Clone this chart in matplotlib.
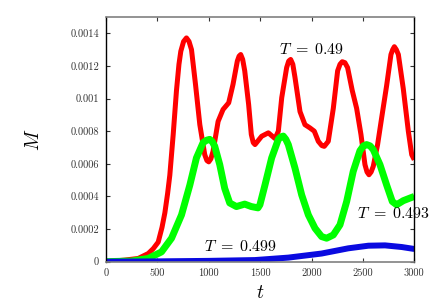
import matplotlib
matplotlib.use("Agg")
import matplotlib.pyplot as plt

plt.rcParams['mathtext.fontset'] = 'cm'
plt.rcParams['font.family'] = 'serif'
plt.rcParams['font.serif'] = ['cmr10', 'DejaVu Serif']

# T = 0.49
t_red = [0, 184, 314, 411, 460, 508, 545, 573, 600, 621, 654, 686, 710, 728, 755,
         783, 808, 832, 871, 913, 961, 982, 1000, 1020, 1042, 1091, 1139, 1194,
         1236, 1278, 1295, 1311, 1330, 1350, 1388, 1414, 1433, 1450,
         1515, 1580, 1645, 1677, 1710, 1758, 1778, 1797, 1818, 1839, 1888, 1936,
         1985, 2027, 2066, 2100, 2124, 2163, 2212, 2254, 2277, 2299, 2325, 2351,
         2396, 2439, 2481, 2520, 2540, 2559, 2580, 2601, 2643, 2682, 2731, 2773,
         2790, 2806, 2825, 2845, 2893, 2942, 2975, 3000]
m_red = [0, 0.00001, 0.00002, 0.00005, 0.00008, 0.00012, 0.00021, 0.0003, 0.00042,
         0.00053, 0.00078, 0.00105, 0.00121, 0.00129, 0.00135,
         0.001372, 0.00135, 0.0013, 0.001087, 0.00084, 0.000656, 0.00062,
         0.000612, 0.00063, 0.000677, 0.00086, 0.000933, 0.000974,
         0.001087, 0.00123, 0.00126, 0.00127, 0.00124, 0.00117, 0.000964, 0.00078,
         0.00073, 0.000718,
         0.000769, 0.00079, 0.000755, 0.0008, 0.001005, 0.00119, 0.00123, 0.00124,
         0.00121, 0.00113, 0.00092, 0.00084, 0.00082, 0.0008, 0.000738, 0.000712,
         0.000707, 0.000738, 0.00094, 0.00117, 0.00121, 0.001226, 0.00122, 0.00119,
         0.00105, 0.00094, 0.00078, 0.000595, 0.00055, 0.000533, 0.00055,
         0.000585, 0.000718, 0.00088, 0.00108, 0.00127, 0.0013, 0.001318, 0.0013,
         0.00127, 0.00106, 0.0008, 0.000656, 0.000625]

# T = 0.493
t_green = [0, 249, 411, 540, 638, 735, 816, 880, 945, 980, 1010, 1035, 1058, 1107,
           1155, 1204, 1269, 1350, 1414, 1479, 1498, 1547, 1612, 1677, 1700, 1725,
           1750, 1774, 1839, 1904, 1969, 2034, 2098, 2147, 2212, 2277, 2342, 2406,
           2471, 2505, 2536, 2570, 2601, 2666, 2731, 2786, 2828, 2893, 2958, 3000]
m_green = [0, 0.000004, 0.00002, 0.00006, 0.000144, 0.000287, 0.00047, 0.000636,
           0.00073, 0.000745, 0.00075, 0.000735, 0.000708, 0.000595, 0.00045,
           0.00036, 0.000338, 0.000353, 0.000338, 0.00033, 0.000349, 0.00047,
           0.000636, 0.00075, 0.000765, 0.00077, 0.00075, 0.000718, 0.000574,
           0.00041, 0.000287, 0.000205, 0.000154, 0.000144, 0.000164, 0.000226,
           0.000369, 0.000554, 0.00068, 0.00071, 0.000718, 0.00071, 0.000687,
           0.000595, 0.00047, 0.000369, 0.000349, 0.000374, 0.00039, 0.0004]

# T = 0.499
t_blue = [0, 500, 1000, 1450, 1774, 2098, 2358, 2553, 2715, 2877, 3000]
m_blue = [0, 0.000002, 0.000005, 0.00001, 0.000025, 0.00005, 0.000082, 0.000098,
          0.0001, 0.00009, 0.000078]

x_ticks = [0, 500, 1000, 1500, 2000, 2500, 3000]
y_ticks = [0, 0.0002, 0.0004, 0.0006, 0.0008, 0.001, 0.0012, 0.0014]
y_labels = ['0', '0.0002', '0.0004', '0.0006', '0.0008', '0.001', '0.0012', '0.0014']

fig = plt.figure(figsize=(4.36, 3.06), dpi=100)
ax = fig.add_axes([0.2431, 0.1448, 0.7071, 0.7996])

style = dict(solid_joinstyle='round', solid_capstyle='butt')
ax.plot(t_red, m_red, color='#ff0000', lw=3.6, **style)
ax.plot(t_green, m_green, color='#00ff00', lw=5.0, **style)
ax.plot(t_blue, m_blue, color='#0a0ae0', lw=4.3, **style)

ax.text(1998, 0.0013, r'$T\;=\;0.49$', fontsize=11.5, ha='center', va='center')
ax.text(2793, 0.000297, r'$T\;=\;0.493$', fontsize=11.5, ha='center', va='center')
ax.text(1303, 0.000092, r'$T\;=\;0.499$', fontsize=11.5, ha='center', va='center')

ax.set_xlim(0, 3000)
ax.set_ylim(0, 0.0015)
ax.set_xticks(x_ticks)
ax.set_xticklabels([str(v) for v in x_ticks])
ax.set_yticks(y_ticks)
ax.set_yticklabels(y_labels)
ax.tick_params(direction='in', length=3, width=0.8, top=True, right=True,
               labelsize=7.5, labelcolor='#333333', colors='#333333')
ax.tick_params(axis='both', pad=5)

for side in ['top', 'bottom']:
    ax.spines[side].set_color('#808080')
    ax.spines[side].set_linewidth(1.2)
for side in ['left', 'right']:
    ax.spines[side].set_color('black')
    ax.spines[side].set_linewidth(1.0)

ax.set_xlabel(r'$t$', fontsize=14)
ax.set_ylabel(r'$M$', fontsize=14, labelpad=20)

fig.savefig('out.png', dpi=100)
